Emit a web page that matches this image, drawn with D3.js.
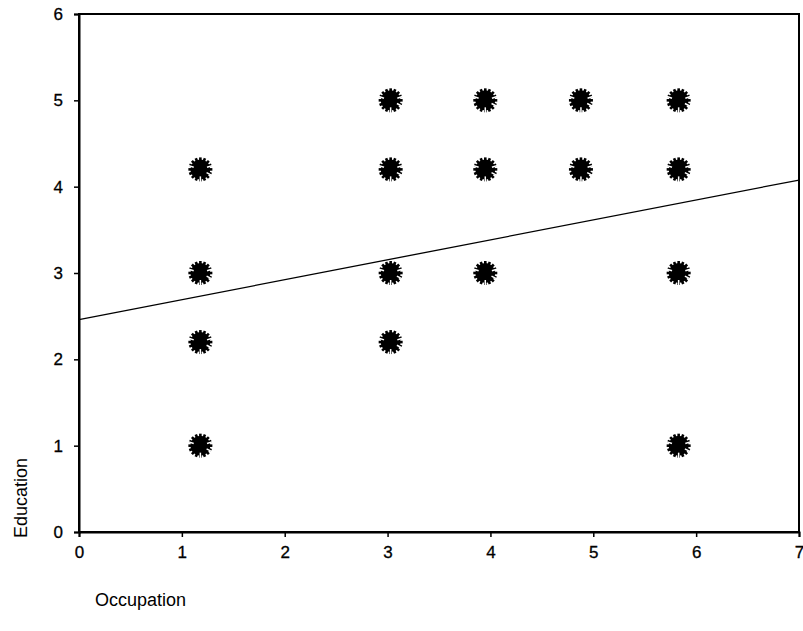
<!DOCTYPE html>
<html>
<head>
<meta charset="utf-8">
<script src="https://cdn.jsdelivr.net/npm/d3@7"></script>
<style>
  html, body { margin: 0; padding: 0; background: #fff; }
  svg { display: block; }
  text { font-family: Arial, "Liberation Sans", sans-serif; fill: #000; }
</style>
</head>
<body>
<script>
// Observations: occupation score vs. education score
const occupation = [1.18, 1.18, 1.18, 1.18, 3.03, 3.03, 3.03, 3.03, 3.95, 3.95, 3.95, 4.88, 4.88, 5.83, 5.83, 5.83, 5.83];
const education  = [4.2, 3, 2.2, 1, 5, 4.2, 3, 2.2, 5, 4.2, 3, 5, 4.2, 5, 4.2, 3, 1];

// Fitted regression line: education = intercept + slope * occupation
const fitIntercept = 2.46;
const fitSlope = 0.231;

const xTicks = [0, 1, 2, 3, 4, 5, 6, 7];
const yTicks = [0, 1, 2, 3, 4, 5, 6];

const width = 803, height = 631;
const margin = { left: 79, right: 4, top: 14, bottom: 99 };

const svg = d3.select("body").append("svg")
  .attr("width", width).attr("height", height);

const x = d3.scaleLinear().domain([0, 7]).range([margin.left, width - margin.right]);
const y = d3.scaleLinear().domain([0, 6]).range([height - margin.bottom, margin.top]);

// Frame
svg.append("rect")
  .attr("x", x(0)).attr("y", y(6))
  .attr("width", x(7) - x(0)).attr("height", y(0) - y(6))
  .attr("fill", "none").attr("stroke", "#000").attr("stroke-width", 2);

// Axes
const xAxis = svg.append("g")
  .attr("transform", `translate(0,${y(0)})`)
  .call(d3.axisBottom(x).tickValues(xTicks).tickSize(5).tickPadding(9).tickFormat(d3.format("d")));
const yAxis = svg.append("g")
  .attr("transform", `translate(${x(0)},0)`)
  .call(d3.axisLeft(y).tickValues(yTicks).tickSize(5).tickPadding(11).tickFormat(d3.format("d")));

[xAxis, yAxis].forEach(g => {
  g.attr("font-size", null).attr("font-family", null);
  g.select(".domain").attr("stroke-width", 2);
  g.selectAll(".tick line").attr("stroke-width", 1.5);
  g.selectAll(".tick text")
    .style("font-size", "17px")
    .style("font-family", "Arial, 'Liberation Sans', sans-serif")
    .style("stroke", "#000").style("stroke-width", "0.3px");
});

// Regression line
svg.append("line")
  .attr("x1", x(0)).attr("y1", y(fitIntercept))
  .attr("x2", x(7)).attr("y2", y(fitIntercept + fitSlope * 7))
  .attr("stroke", "#000").attr("stroke-width", 1.3);

// Star-burst markers
const pts = occupation.map((o, i) => ({ o, e: education[i] }));
const spokes = d3.range(16).map(k => k * Math.PI * 2 / 16);
const marker = svg.append("g").selectAll("g").data(pts).join("g")
  .attr("transform", d => `translate(${x(d.o)},${y(d.e)})`);
marker.append("circle").attr("r", 10).attr("fill", "#000");
marker.selectAll("line.spoke").data(spokes).join("line")
  .attr("class", "spoke")
  .attr("x1", 0).attr("y1", 0)
  .attr("x2", a => 12 * Math.cos(a)).attr("y2", a => 12 * Math.sin(a))
  .attr("stroke", "#000").attr("stroke-width", 2.6);
// small white notches between the spokes
marker.selectAll("line.notch").data([Math.PI * 0.5, Math.PI * 1.1, Math.PI * 1.9, Math.PI * 0.15]).join("line")
  .attr("class", "notch")
  .attr("x1", a => 7 * Math.cos(a)).attr("y1", a => 7 * Math.sin(a))
  .attr("x2", a => 13 * Math.cos(a)).attr("y2", a => 13 * Math.sin(a))
  .attr("stroke", "#fff").attr("stroke-width", 1.5);

// Axis titles
svg.append("text")
  .attr("x", 95).attr("y", 606)
  .style("font-size", "18px")
  .text("Occupation");
svg.append("text")
  .attr("transform", `translate(27,498) rotate(-90)`)
  .attr("text-anchor", "middle")
  .style("font-size", "18px")
  .text("Education");
</script>
</body>
</html>
